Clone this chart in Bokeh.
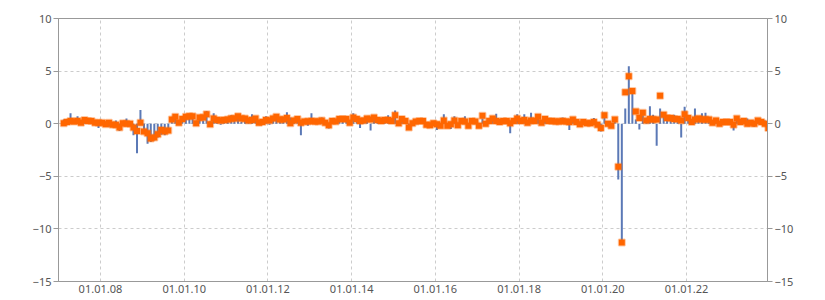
from datetime import datetime
import pandas as pd
from bokeh.plotting import figure
from bokeh.models import Range1d, LinearAxis, FixedTicker, DatetimeTickFormatter, ColumnDataSource
from bokeh.embed import file_html
from bokeh.resources import INLINE

# monthly observations, Jan 2007 .. Nov 2023 (plotted mid-month)
dates = pd.date_range("2007-01-15", periods=203, freq="MS") + pd.Timedelta(days=14)

bars = [
    0.4, 0.1, 1.0, 0.1, 0.7, 0.1, 0.3, 0.2, 0.4, -0.1,
    -0.4, 0.1, 0.2, -0.3, 0.1, 0.3, -0.7, 0.1, 0.5, -0.2,
    -1.1, -2.8, 1.3, -0.9, -1.9, -1.75, -1.6, -1.3, -1.05, -1.1,
    -0.8, 0.5, 0.6, 0.2, 0.4, 0.5, 0.6, 0.8, 0.1, 0.7,
    0.3, 1.2, 0.2, 1.0, 0.3, -0.1, 0.4, 0.3, 0.8, 0.4,
    0.6, 0.2, 0.7, 0.3, 0.9, 0.4, 0.2, 0.3, 0.7, -0.1,
    0.4, 0.6, 0.3, 0.4, 1.1, 0.6, 0.3, 0.5, -1.1, 0.2,
    -0.2, 1.0, 0.3, 0.2, 0.6, 0.2, -0.45, 0.3, 0.1, 0.4,
    0.3, 0.5, 0.2, 1.0, 0.3, -0.4, 0.4, 0.6, -0.65, 0.5,
    0.3, 0.2, 0.3, 0.8, 0.2, 1.25, 0.1, 0.4, 0.2, -0.5,
    0.1, 0.2, 0.3, 0.5, -0.1, -0.2, 0.2, -0.6, -0.1, 0.9,
    -0.3, -0.5, 0.7, -0.1, 0.5, 0.7, -0.2, 0.4, 0.2, -0.2,
    0.5, 0.1, 0.2, 0.4, 0.95, 0.1, 0.3, 0.2, -0.9, 0.3,
    0.9, 0.2, 0.9, 0.1, 1.05, 0.2, 0.6, 0.2, 0.3, 0.2,
    0.3, 0.1, 0.2, 0.6, 0.1, -0.6, 0.3, 0.2, -0.3, 0.2,
    0.1, 0.1, 0.55, -0.2, -0.75, 1.05, 0.1, -0.1, 0.2, -5.3,
    -11.3, 1.45, 5.45, 3.0, 0.4, -0.55, 0.8, 0.3, 1.65, 0.85,
    -2.1, 1.45, 0.9, 0.6, 0.6, 0.85, 0.6, -1.3, 1.6, 0.5,
    0.2, 1.45, 0.4, 1.0, 1.05, 0.3, 0.2, 0.5, 0.1, 0.45,
    0.1, 0.2, -0.65, 0.3, 0.2, 0.1, 0.5, 0.1, -0.3, 0.2,
    0.1, 0.3, -0.35,
]

points = [
    0.05, 0.15, 0.25, 0.2, 0.25, 0.1, 0.35, 0.25, 0.25, 0.1,
    0.1, 0.1, -0.05, 0.1, -0.1, -0.1, -0.35, 0.05, 0.0, 0.0,
    -0.35, -0.7, 0.1, -0.75, -0.9, -1.4, -1.3, -1.0, -0.6, -0.75,
    -0.65, 0.4, 0.65, 0.1, 0.45, 0.65, 0.7, 0.7, 0.05, 0.6,
    0.6, 0.9, -0.05, 0.5, 0.35, 0.3, 0.35, 0.4, 0.5, 0.5,
    0.7, 0.5, 0.5, 0.3, 0.35, 0.5, 0.1, 0.15, 0.35, 0.3,
    0.5, 0.65, 0.4, 0.4, 0.55, 0.05, 0.3, 0.45, 0.1, 0.2,
    0.2, 0.25, 0.2, 0.2, 0.3, 0.1, -0.15, 0.25, 0.2, 0.45,
    0.45, 0.45, 0.1, 0.6, 0.45, 0.25, 0.3, 0.5, 0.4, 0.6,
    0.35, 0.25, 0.35, 0.35, 0.25, 0.8, 0.05, 0.45, 0.25, -0.35,
    0.05, 0.2, 0.25, 0.25, -0.1, -0.15, 0.05, -0.05, -0.2, 0.3,
    -0.2, -0.05, 0.3, -0.15, 0.25, 0.2, -0.2, 0.25, 0.2, -0.2,
    0.75, 0.0, 0.25, 0.5, 0.25, 0.15, 0.25, 0.25, 0.05, 0.25,
    0.5, 0.25, 0.35, 0.1, 0.3, 0.25, 0.65, 0.1, 0.45, 0.25,
    0.25, 0.2, 0.2, 0.25, 0.2, 0.15, 0.4, 0.15, -0.05, 0.15,
    0.05, 0.05, 0.15, -0.1, -0.4, 0.8, 0.0, -0.2, 0.4, -4.1,
    -11.3, 3.0, 4.5, 3.1, 1.15, 0.55, 1.05, 0.3, 0.45, 0.4,
    0.4, 2.65, 0.85, 0.55, 0.55, 0.45, 0.45, 0.3, 0.9, 0.55,
    0.15, 0.4, 0.5, 0.4, 0.4, 0.4, 0.1, 0.3, 0.0, 0.15,
    0.15, 0.15, -0.1, 0.5, 0.15, 0.25, 0.0, 0.1, 0.0, 0.3,
    0.15, 0.0, -0.4,
]

y_ticks = [-15, -10, -5, 0, 5, 10]
x_tick_years = [2008, 2010, 2012, 2014, 2016, 2018, 2020, 2022]

src = ColumnDataSource(dict(x=dates, zero=[0] * len(dates), bar=bars, pt=points))

p = figure(width=825, height=300, x_axis_type="datetime",
           x_range=Range1d(datetime(2006, 12, 31), datetime(2023, 12, 8)),
           y_range=Range1d(-15, 10),
           output_backend="svg", toolbar_location=None,
           min_border_left=58, min_border_right=58, min_border_top=18, min_border_bottom=19)

p.segment(x0="x", y0="zero", x1="x", y1="bar", source=src, line_color="#5b79b6", line_width=2)
p.scatter(x="x", y="pt", source=src, marker="square", size=6,
          fill_color="#ff6600", line_color="#ff6600", line_alpha=0.35, line_width=2)

tick_ms = [datetime(y, 1, 1).timestamp() * 1000 for y in x_tick_years]
p.xaxis.ticker = FixedTicker(ticks=tick_ms)
fmt = "%d.%m.%y"
p.xaxis.formatter = DatetimeTickFormatter(milliseconds=fmt, seconds=fmt, minsec=fmt, minutes=fmt,
                                          hourmin=fmt, hours=fmt, days=fmt, months=fmt, years=fmt)
p.xgrid.ticker = FixedTicker(ticks=tick_ms)

labels = {v: (str(v).replace("-", "\u2212")) for v in y_ticks}
p.yaxis.ticker = FixedTicker(ticks=y_ticks)
p.yaxis.major_label_overrides = labels

right = LinearAxis(ticker=FixedTicker(ticks=y_ticks), major_label_overrides=labels)
p.add_layout(right, "right")

for ax in p.axis:
    ax.axis_line_color = "#999999"
    ax.major_tick_line_color = "#999999"
    ax.minor_tick_line_color = None
    ax.major_label_text_font = "Noto Sans"
    ax.major_label_text_font_size = "11px"
    ax.major_label_text_color = "#555555"
    ax.major_tick_in = 0

p.xaxis.major_tick_out = 0
p.xaxis.major_label_standoff = 3
for ax in p.yaxis:
    ax.major_tick_out = 5
    ax.major_label_standoff = 2

p.xgrid.grid_line_color = "#cccccc"
p.ygrid.grid_line_color = "#cccccc"
p.xgrid.grid_line_dash = "3 3"
p.ygrid.grid_line_dash = "3 3"
p.outline_line_color = "#999999"
p.background_fill_color = "white"
p.border_fill_color = "white"

open("out.html", "w").write(file_html(p, INLINE))
